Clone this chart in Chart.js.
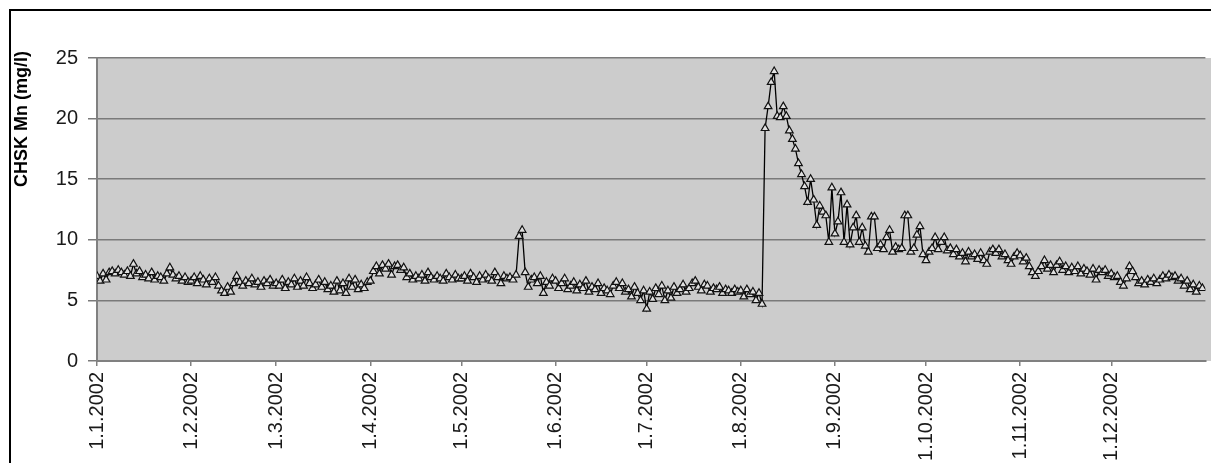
<!DOCTYPE html>
<html>
<head>
<meta charset="utf-8">
<script src="https://cdn.jsdelivr.net/npm/chart.js@4.4.1/dist/chart.umd.min.js"></script>
<style>
  html, body { margin: 0; padding: 0; background: #ffffff; }
  #wrap { position: relative; width: 1211px; height: 463px; }
  canvas { display: block; }
</style>
</head>
<body>
<div id="wrap"><canvas id="c" width="1211" height="463"></canvas></div>
<script>
// ---- Data: daily CHSK Mn (mg/l) values for 2002, one array per month ----
const jan = [7.0, 6.6, 7.2, 6.7, 7.3, 7.4, 7.2, 7.5, 7.3, 7.1, 7.4, 7.0, 8.0, 7.2, 7.4, 6.9, 7.1, 6.8, 7.3, 6.7, 7.0, 6.9, 6.6, 7.2, 7.7, 7.1, 6.8, 7.0, 6.6, 6.9, 6.5];
const feb = [6.6, 6.9, 6.4, 7.0, 6.7, 6.3, 6.8, 6.5, 6.9, 6.2, 5.8, 5.6, 6.1, 5.7, 6.4, 7.0, 6.5, 6.2, 6.6, 6.4, 6.8, 6.3, 6.5, 6.1, 6.6, 6.4, 6.7, 6.2];
const mar = [6.4, 6.2, 6.7, 6.0, 6.5, 6.3, 6.8, 6.1, 6.6, 6.2, 6.9, 6.4, 6.0, 6.3, 6.7, 6.1, 6.5, 5.9, 6.2, 5.7, 6.6, 5.8, 6.4, 5.6, 6.8, 6.1, 6.7, 5.9, 6.3, 6.0, 6.5];
const apr = [6.6, 7.4, 7.8, 7.2, 7.9, 7.6, 8.0, 7.1, 7.8, 7.9, 7.5, 7.7, 6.9, 7.2, 6.7, 7.0, 6.8, 7.1, 6.6, 7.3, 6.9, 6.7, 7.0, 6.8, 6.6, 7.2, 6.9, 6.7, 7.1, 6.8];
const may = [6.8, 7.0, 6.6, 7.2, 6.9, 6.5, 7.0, 6.7, 7.1, 6.8, 6.6, 7.3, 6.9, 6.4, 7.0, 6.8, 6.9, 6.7, 7.1, 10.3, 10.8, 7.3, 6.1, 6.7, 6.9, 6.4, 7.0, 5.6, 6.5, 6.2, 6.8];
const jun = [6.6, 6.0, 6.4, 6.8, 5.9, 6.2, 6.5, 5.8, 6.3, 6.0, 6.6, 5.7, 6.1, 5.9, 6.4, 5.6, 6.0, 5.8, 5.5, 6.2, 6.5, 6.0, 6.4, 5.7, 5.9, 5.3, 6.1, 5.6, 5.0, 5.8];
const jul = [4.3, 5.7, 5.1, 6.0, 5.5, 6.2, 5.0, 5.8, 5.2, 6.1, 5.6, 5.9, 6.3, 5.7, 6.0, 6.4, 6.6, 6.1, 5.8, 6.3, 6.2, 5.7, 6.0, 5.9, 6.1, 5.6, 5.9, 5.8, 5.6, 5.9, 5.7];
const aug = [5.8, 5.3, 5.9, 5.5, 5.7, 5.0, 5.6, 4.7, 19.2, 21.0, 23.0, 23.9, 20.2, 20.1, 21.0, 20.2, 19.0, 18.3, 17.5, 16.3, 15.4, 14.4, 13.1, 15.0, 13.3, 11.2, 12.8, 12.3, 12.0, 9.8, 14.3];
const sep = [10.5, 11.5, 13.9, 9.8, 12.9, 9.6, 11.0, 12.0, 9.8, 11.0, 9.5, 9.0, 11.9, 11.9, 9.3, 9.6, 9.2, 10.2, 10.8, 9.0, 9.4, 9.2, 9.3, 12.0, 12.0, 9.0, 9.3, 10.4, 11.1, 8.8];
const oct = [8.3, 9.0, 9.3, 10.2, 9.2, 9.8, 10.2, 9.1, 9.3, 8.8, 9.2, 8.6, 8.9, 8.2, 9.0, 8.6, 8.8, 8.4, 8.9, 8.3, 8.0, 9.0, 9.2, 8.9, 9.2, 8.6, 8.8, 8.3, 8.0, 8.6, 8.9];
const nov = [8.7, 8.2, 8.5, 7.8, 7.3, 7.0, 7.4, 7.8, 8.3, 7.6, 7.9, 7.3, 7.9, 8.2, 7.5, 7.8, 7.3, 7.7, 7.4, 7.8, 7.2, 7.6, 7.4, 7.1, 7.6, 6.7, 7.5, 7.3, 7.5, 7.0];
const dec = [7.2, 6.9, 7.0, 6.5, 6.2, 6.8, 7.8, 7.4, 6.9, 6.4, 6.6, 6.3, 6.7, 6.5, 6.8, 6.4, 6.7, 7.0, 6.8, 7.1, 6.9, 7.0, 6.6, 6.8, 6.2, 6.6, 5.9, 6.3, 5.7, 6.2, 6.0];

// Tick labels (first day of each month)
const monthLabels = ['1.1.2002', '1.2.2002', '1.3.2002', '1.4.2002', '1.5.2002', '1.6.2002',
                     '1.7.2002', '1.8.2002', '1.9.2002', '1.10.2002', '1.11.2002', '1.12.2002'];
const months = [jan, feb, mar, apr, may, jun, jul, aug, sep, oct, nov, dec];
const yTicks = [0, 5, 10, 15, 20, 25];
const yTitle = 'CHSK Mn (mg/l)';

// ---- build library structures from arrays ----
const monthStart = [];
let acc = 0;
months.forEach(m => { monthStart.push(acc); acc += m.length; });
const values = [].concat(...months);
const points = values.map((v, i) => ({ x: i, y: v }));

const FONT = 'Liberation Sans, Arial, sans-serif';

const bgPlugin = {
  id: 'bg',
  beforeDraw(chart) {
    const { ctx, chartArea: a } = chart;
    ctx.save();
    ctx.fillStyle = '#ffffff';
    ctx.fillRect(0, 0, chart.width, chart.height);
    ctx.fillStyle = '#cccccc';
    ctx.fillRect(a.left, a.top, chart.width - a.left, a.bottom - a.top);
    ctx.restore();
  },
  afterDraw(chart) {
    const { ctx } = chart;
    ctx.save();
    ctx.strokeStyle = '#000000';
    ctx.lineWidth = 2;
    ctx.beginPath();
    ctx.moveTo(10, chart.height);
    ctx.lineTo(10, 10);
    ctx.lineTo(chart.width, 10);
    ctx.stroke();
    ctx.translate(22, 119);
    ctx.rotate(-Math.PI / 2);
    ctx.fillStyle = '#000000';
    ctx.font = 'bold 18px ' + FONT;
    ctx.textAlign = 'center';
    ctx.textBaseline = 'middle';
    ctx.fillText(yTitle, 0, 0);
    ctx.restore();
  }
};

new Chart(document.getElementById('c'), {
  type: 'line',
  data: {
    datasets: [{
      data: points,
      borderColor: '#000000',
      borderWidth: 1.3,
      pointStyle: 'triangle',
      pointRadius: 4.4,
      pointBorderWidth: 1.2,
      pointBorderColor: '#111111',
      pointBackgroundColor: '#e0e0e0',
      tension: 0,
      fill: false
    }]
  },
  options: {
    responsive: false,
    animation: false,
    events: [],
    layout: { padding: { top: 58, left: 0, right: 0, bottom: 0 } },
    plugins: { legend: { display: false }, tooltip: { enabled: false } },
    scales: {
      x: {
        type: 'linear',
        min: 0,
        max: 365,
        afterBuildTicks(scale) {
          scale.ticks = monthStart.map(v => ({ value: v }));
        },
        afterFit(scale) { scale.height = 102; },
        ticks: {
          autoSkip: false,
          maxRotation: 90,
          minRotation: 90,
          padding: 6,
          color: '#1a1a1a',
          font: { family: FONT, size: 20 },
          callback(value) {
            const i = monthStart.indexOf(value);
            return i >= 0 ? monthLabels[i] : null;
          }
        },
        grid: { drawOnChartArea: false, drawTicks: true, tickLength: 5, color: '#808080', lineWidth: 1.5 },
        border: { display: true, color: '#808080', width: 2 }
      },
      y: {
        min: 0,
        max: 25,
        afterBuildTicks(scale) {
          scale.ticks = yTicks.map(v => ({ value: v }));
        },
        afterFit(scale) { scale.width = 97; },
        ticks: {
          padding: 10,
          color: '#1a1a1a',
          font: { family: FONT, size: 20 }
        },
        grid: { color: '#7a7a7a', lineWidth: 1.5, tickLength: 9, drawTicks: true },
        border: { display: true, color: '#808080', width: 2 }
      }
    }
  },
  plugins: [bgPlugin]
});
</script>
</body>
</html>
